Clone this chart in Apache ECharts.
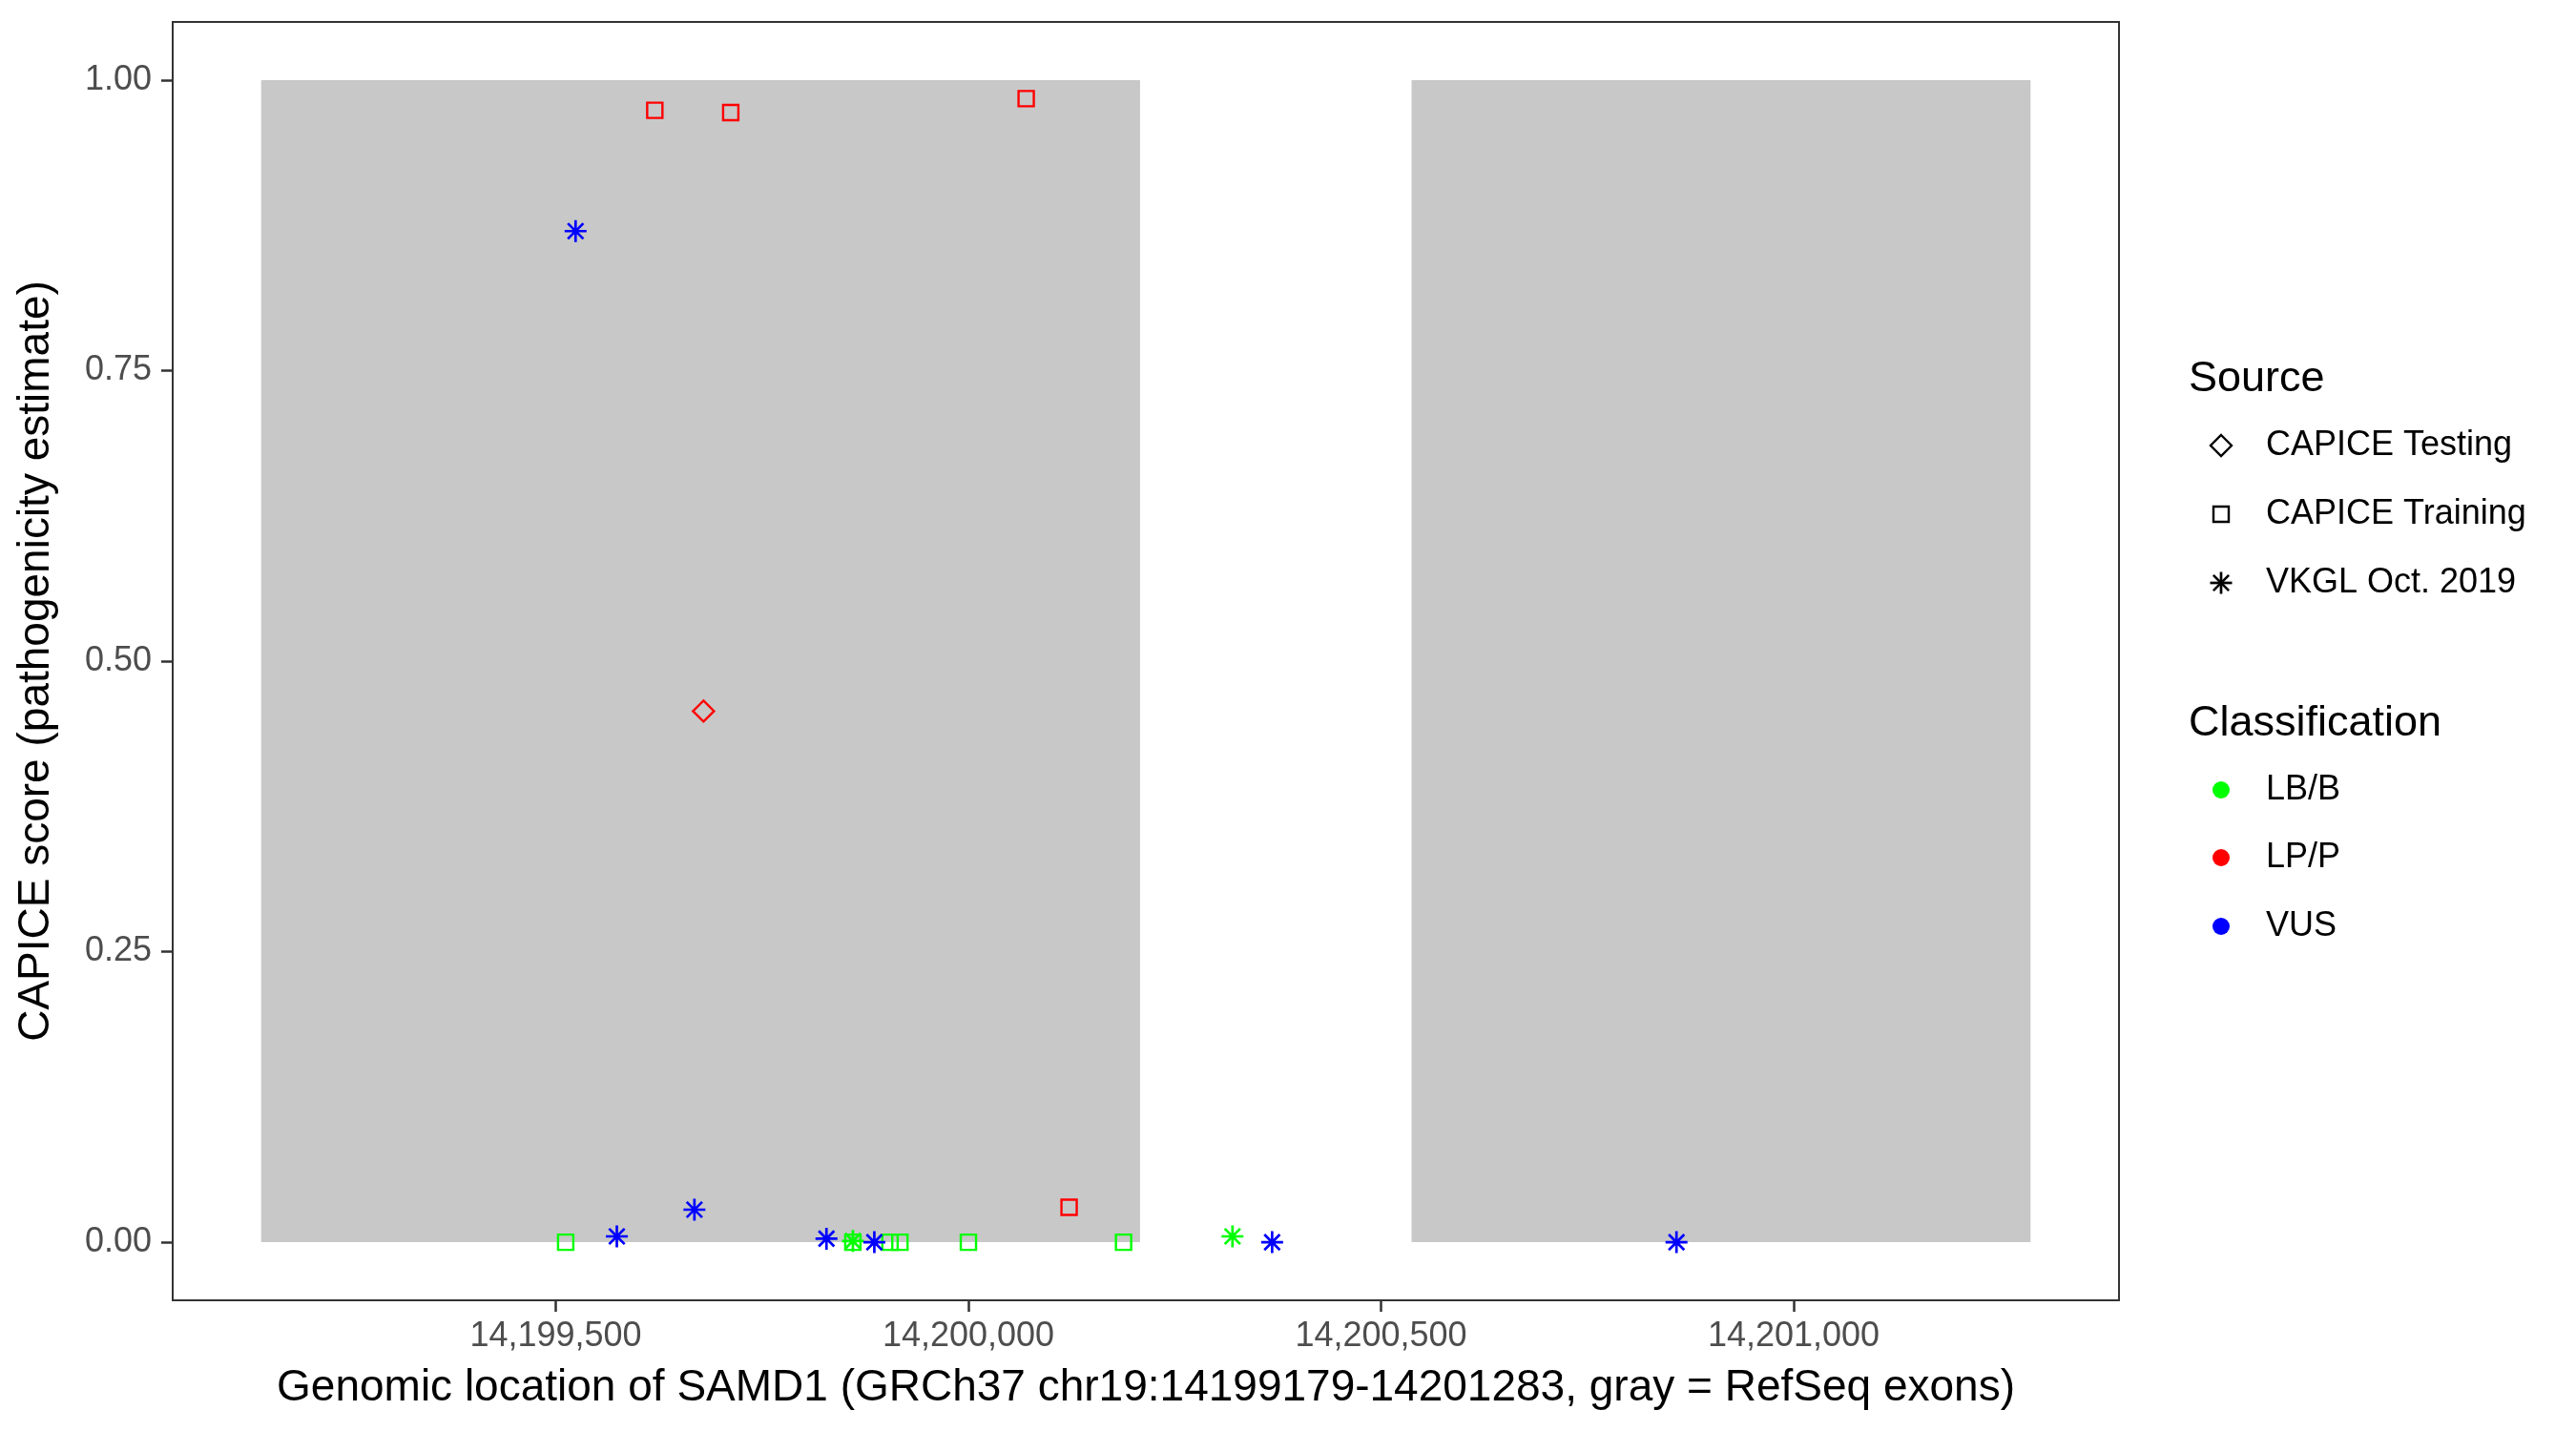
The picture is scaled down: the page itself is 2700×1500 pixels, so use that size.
<!DOCTYPE html>
<html><head><meta charset="utf-8">
<script src="https://cdn.jsdelivr.net/npm/echarts@6/dist/echarts.min.js"></script>
<style>html,body{margin:0;padding:0;background:#fff}#c{width:2700px;height:1500px}</style>
</head><body><div id="c"></div>
<script>
// ---- data ----
const exonStart = [14199143, 14200537];
const exonEnd   = [14200208, 14201287];
const xTicks = [14199500, 14200000, 14200500, 14201000];
const yTicks = [0, 0.25, 0.5, 0.75, 1];

// CAPICE Training
const trainLBBx = [14199512, 14199860, 14199905, 14199917, 14200000, 14200188];
const trainLBBy = [0.000, 0.000, 0.000, 0.000, 0.000, 0.000];
const trainLPPx = [14199620, 14199712, 14200070, 14200122];
const trainLPPy = [0.974, 0.972, 0.984, 0.030];
// CAPICE Testing
const testLPPx = [14199679];
const testLPPy = [0.457];
// VKGL Oct. 2019
const vkglLBBx = [14199860, 14200320];
const vkglLBBy = [0.001, 0.005];
const vkglVUSx = [14199524, 14199574, 14199668, 14199828, 14199886, 14200368, 14200858];
const vkglVUSy = [0.870, 0.005, 0.028, 0.003, 0.000, 0.000, 0.000];

const sourceNames = ['CAPICE Testing', 'CAPICE Training', 'VKGL Oct. 2019'];
const classNames = ['LB/B', 'LP/P', 'VUS'];
const classColors = ['#00ff00', '#ff0000', '#0000ff'];

// ---- build ----
const FONT = 'Liberation Sans, Arial, Helvetica, sans-serif';
const zip = (xs, ys) => xs.map((x, i) => [x, ys[i]]);
const span = Math.max(...exonEnd) - Math.min(...exonStart);
const xMin = Math.min(...exonStart) - 0.05 * span;
const xMax = Math.max(...exonEnd) + 0.05 * span;
const fmtComma = v => String(Math.round(v)).replace(/\B(?=(\d{3})+(?!\d))/g, ',');

const ASTER = 'path://M10,0L10,20M0,10L20,10M2.93,2.93L17.07,17.07M2.93,17.07L17.07,2.93';
const SQ = {symbol: 'rect', symbolSize: 16};
const DI = {symbol: 'diamond', symbolSize: 22};
const AS = {symbol: ASTER, symbolSize: 23};

function pts(name, data, shape, color, bw) {
  return Object.assign({
    type: 'scatter', name, data, z: 3, silent: true,
    itemStyle: {color: 'rgba(0,0,0,0)', borderColor: color, borderWidth: bw, opacity: 1}
  }, shape);
}

const series = [
  {
    type: 'custom', name: 'exons', z: 1, silent: true,
    data: exonStart.map((s, i) => [s, exonEnd[i]]),
    encode: {x: [0, 1]},
    renderItem: (params, api) => {
      const p0 = api.coord([api.value(0), 1]);
      const p1 = api.coord([api.value(1), 0]);
      return {type: 'rect', shape: {x: p0[0], y: p0[1], width: p1[0] - p0[0], height: p1[1] - p0[1]},
              style: {fill: '#c8c8c8'}};
    }
  },
  pts('Training LB/B', zip(trainLBBx, trainLBBy), SQ, classColors[0], 2.4),
  pts('Training LP/P', zip(trainLPPx, trainLPPy), SQ, classColors[1], 2.4),
  pts('Testing LP/P', zip(testLPPx, testLPPy), DI, classColors[1], 2.4),
  pts('VKGL LB/B', zip(vkglLBBx, vkglLBBy), AS, classColors[0], 2.7),
  pts('VKGL VUS', zip(vkglVUSx, vkglVUSy), AS, classColors[2], 2.7)
];

// ---- legend (graphic) ----
const LX = 2328, TX = 2375, TITLEX = 2294;
const graphic = [];
function gtext(x, y, text, size) {
  graphic.push({type: 'text', x, y, silent: true,
    style: {text, fontSize: size, fontFamily: FONT, fill: '#000', verticalAlign: 'middle', align: 'left'}});
}
gtext(TITLEX, 398, 'Source', 45);
const srcY = [467, 539, 611];
sourceNames.forEach((n, i) => gtext(TX, srcY[i], n, 36));
// diamond key
graphic.push({type: 'polygon', silent: true,
  shape: {points: [[LX, srcY[0] - 11], [LX + 11, srcY[0]], [LX, srcY[0] + 11], [LX - 11, srcY[0]]]},
  style: {fill: 'none', stroke: '#000', lineWidth: 2.4}});
// square key
graphic.push({type: 'rect', silent: true,
  shape: {x: LX - 8, y: srcY[1] - 8, width: 16, height: 16},
  style: {fill: 'none', stroke: '#000', lineWidth: 2.4}});
// asterisk key
[0, 45, 90, 135].forEach(a => {
  const r = 11.5, dx = r * Math.cos(a * Math.PI / 180), dy = r * Math.sin(a * Math.PI / 180);
  graphic.push({type: 'line', silent: true,
    shape: {x1: LX - dx, y1: srcY[2] - dy, x2: LX + dx, y2: srcY[2] + dy},
    style: {stroke: '#000', lineWidth: 2.7}});
});
gtext(TITLEX, 759, 'Classification', 45);
const clsY = [828, 899, 971];
classNames.forEach((n, i) => {
  gtext(TX, clsY[i], n, 36);
  graphic.push({type: 'circle', silent: true, shape: {cx: LX, cy: clsY[i], r: 9},
    style: {fill: classColors[i]}});
});

const option = {
  backgroundColor: '#ffffff',
  animation: false,
  textStyle: {fontFamily: FONT},
  grid: {left: 181, top: 23, width: 2040, height: 1340, show: true,
         borderColor: '#333333', borderWidth: 2, backgroundColor: '#ffffff', containLabel: false},
  xAxis: {
    type: 'value', min: xMin, max: xMax,
    axisLine: {show: false, onZero: false}, splitLine: {show: false},
    axisTick: {show: true, customValues: xTicks, length: 12, lineStyle: {color: '#333333', width: 2.5}},
    axisLabel: {customValues: xTicks, formatter: fmtComma, fontSize: 36, color: '#4d4d4d', margin: 20, fontFamily: FONT},
    name: 'Genomic location of SAMD1 (GRCh37 chr19:14199179-14201283, gray = RefSeq exons)',
    nameLocation: 'middle', nameGap: 69,
    nameTextStyle: {fontSize: 46, color: '#000', fontFamily: FONT}
  },
  yAxis: {
    type: 'value', min: -0.05, max: 1.05,
    axisLine: {show: false, onZero: false}, splitLine: {show: false},
    axisTick: {show: true, customValues: yTicks, length: 12, lineStyle: {color: '#333333', width: 2.5}},
    axisLabel: {customValues: yTicks, formatter: v => v.toFixed(2), fontSize: 36, color: '#4d4d4d', margin: 22, fontFamily: FONT},
    name: 'CAPICE score (pathogenicity estimate)',
    nameLocation: 'middle', nameGap: 120,
    nameTextStyle: {fontSize: 46, color: '#000', fontFamily: FONT}
  },
  series,
  graphic
};
const chart = echarts.init(document.getElementById('c'), null, {renderer: 'canvas'});
chart.setOption(option);
</script></body></html>
